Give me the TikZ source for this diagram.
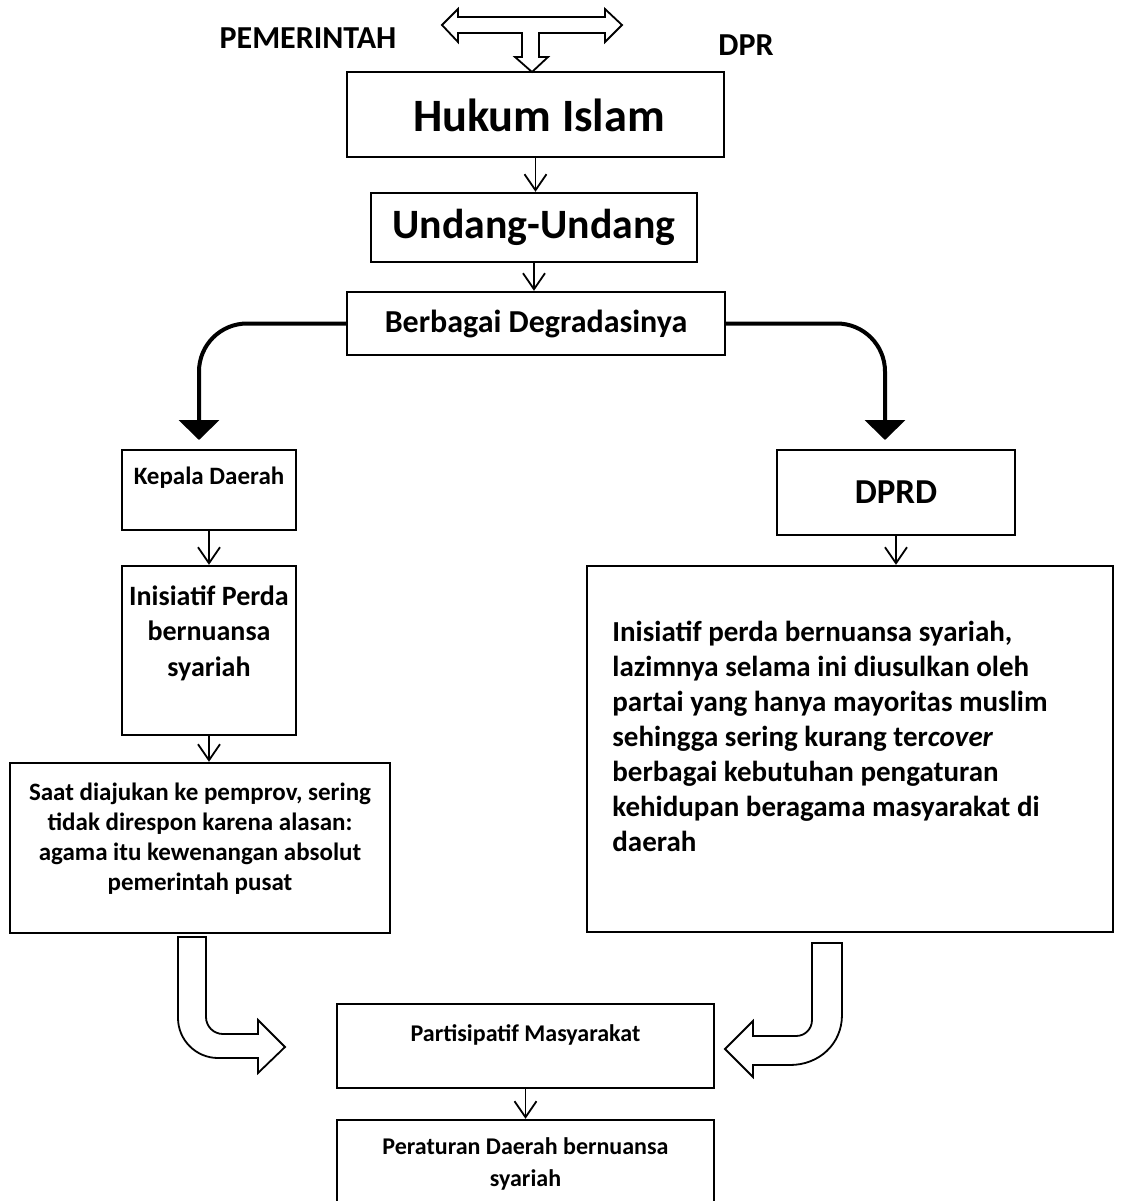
\documentclass[tikz,border=0pt]{standalone}
\usepackage{fontspec}
\setmainfont{Carlito}
\usetikzlibrary{arrows.meta, positioning, calc}
\newcommand{\ukuran}[2]{\bfseries\fontsize{#1}{#2}\selectfont}
\tikzset{
	kotak/.style={rectangle, draw=black, line width=1.2pt, inner sep=0pt, align=center},
	teks/.style={align=center, inner sep=0pt},
	panah/.style={-{Straight Barb[length=8pt, width=11pt]}, line width=0.9pt},
	panahbesar/.style={-{Triangle[length=10pt, width=20pt]}, line width=2pt, rounded corners=24pt},
	panahblok/.style={draw=black, line width=0.9pt, fill=white, line join=miter},
}
\begin{document}
\begin{tikzpicture}[x=0.5pt, y=-0.5pt]
	\useasboundingbox (0,0) rectangle (1123,1201);
	\clip (0,0) rectangle (1123,1201);
	% pembentuk undang-undang
	\node[teks, font=\ukuran{16}{19}] (pemerintah) at (308,38) {PEMERINTAH};
	\node[teks, font=\ukuran{16}{19}] (dpr) at (746,45) {DPR};
	\draw[panahblok] (442,25) -- (458,9) -- (458,17) -- (605,17) -- (605,9) -- (622,25) -- (605,42) -- (605,33) -- (539,33) -- (539,57) -- (548,57) -- (532,72) -- (515,57) -- (522,57) -- (522,33) -- (458,33) -- (458,42) -- cycle;
	% alur utama
	\node[kotak, minimum width=188.5pt, minimum height=42.5pt] (hukum) at (535.5,114.5) {};
	\node[teks, font=\ukuran{23.2}{27}] (hukum-teks) at (539,115) {Hukum Islam};
	\node[kotak, minimum width=163pt, minimum height=34.5pt, font=\ukuran{20.9}{25}] (undang) at (534,227.5) {Undang-Undang};
	\node[kotak, minimum width=189pt, minimum height=31.5pt, font=\ukuran{16}{19}] (berbagai) at (536,323.5) {Berbagai Degradasinya};
	\draw[panah] (hukum.south) -- (hukum.south |- undang.north);
	\draw[panah] (undang.south) -- (undang.south |- berbagai.north);
	% cabang kiri
	\node[kotak, minimum width=87pt, minimum height=40pt] (kepala) at (209,490) {};
	\node[teks, font=\ukuran{12.5}{15}] (kepala-teks) at (209,478) {Kepala Daerah};
	\node[kotak, minimum width=87pt, minimum height=84.5pt] (inisiatif) at (209,650.5) {};
	\node[teks, font=\ukuran{14}{17.75}] (inisiatif-teks) at (209,633) {Inisiatif Perda\\bernuansa\\syariah};
	\node[kotak, minimum width=190pt, minimum height=85pt] (saat) at (200,848) {};
	\node[teks, font=\ukuran{12.5}{15}] (saat-teks) at (200,839) {Saat diajukan ke pemprov, sering\\tidak direspon karena alasan:\\agama itu kewenangan absolut\\pemerintah pusat};
	\draw[panah] (kepala.south) -- (kepala.south |- inisiatif.north);
	\draw[panah] (inisiatif.south) -- (inisiatif.south |- saat.north);
	% cabang kanan
	\node[kotak, minimum width=119pt, minimum height=42.5pt, font=\ukuran{17.5}{21}] (dprd) at (896,492.5) {DPRD};
	\node[kotak, minimum width=263pt, minimum height=183pt] (uraian) at (850,749) {};
	\node[teks, align=left, anchor=north west, font=\ukuran{14.5}{17.5}] (uraian-teks) at (612,621) {Inisiatif perda bernuansa syariah,\\lazimnya selama ini diusulkan oleh\\partai yang hanya mayoritas muslim\\sehingga sering kurang ter\textit{cover}\\berbagai kebutuhan pengaturan\\kehidupan beragama masyarakat di\\daerah};
	\draw[panah] (dprd.south) -- (dprd.south |- uraian.north);
	% panah lengkung dari degradasi
	\coordinate (ujungkiri) at (199,440);
	\coordinate (ujungkanan) at (885,440);
	\draw[panahbesar] (berbagai.west) -| (ujungkiri);
	\draw[panahbesar] (berbagai.east) -| (ujungkanan);
	% hasil akhir
	\node[kotak, minimum width=188.5pt, minimum height=42pt] (partisipatif) at (525.5,1046) {};
	\node[teks, font=\ukuran{12}{15}] (partisipatif-teks) at (525.5,1035) {Partisipatif Masyarakat};
	\node[kotak, minimum width=188.5pt, minimum height=55pt] (perda) at (525.5,1175) {};
	\node[teks, font=\ukuran{12}{16}] (perda-teks) at (525.5,1164) {Peraturan Daerah bernuansa\\syariah};
	\draw[panah] (partisipatif.south) -- (partisipatif.south |- perda.north);
	% panah blok menuju partisipasi
	\draw[panahblok] (178,937) -- (206,937) -- (206,1017) .. controls (206,1026.4) and (213.6,1034) .. (223,1034) -- (258,1034) -- (258,1020) -- (285,1047) -- (258,1073) -- (258,1058) -- (218,1058) .. controls (196,1058) and (178,1040) .. (178,1018) -- cycle;
	\draw[panahblok] (812,943) -- (842,943) -- (842,1015) .. controls (842,1044) and (819,1065) .. (790,1065) -- (753,1065) -- (753,1077) -- (725,1049) -- (753,1021) -- (753,1036) -- (796,1036) .. controls (805,1036) and (812,1029) .. (812,1020) -- cycle;
\end{tikzpicture}
\end{document}
